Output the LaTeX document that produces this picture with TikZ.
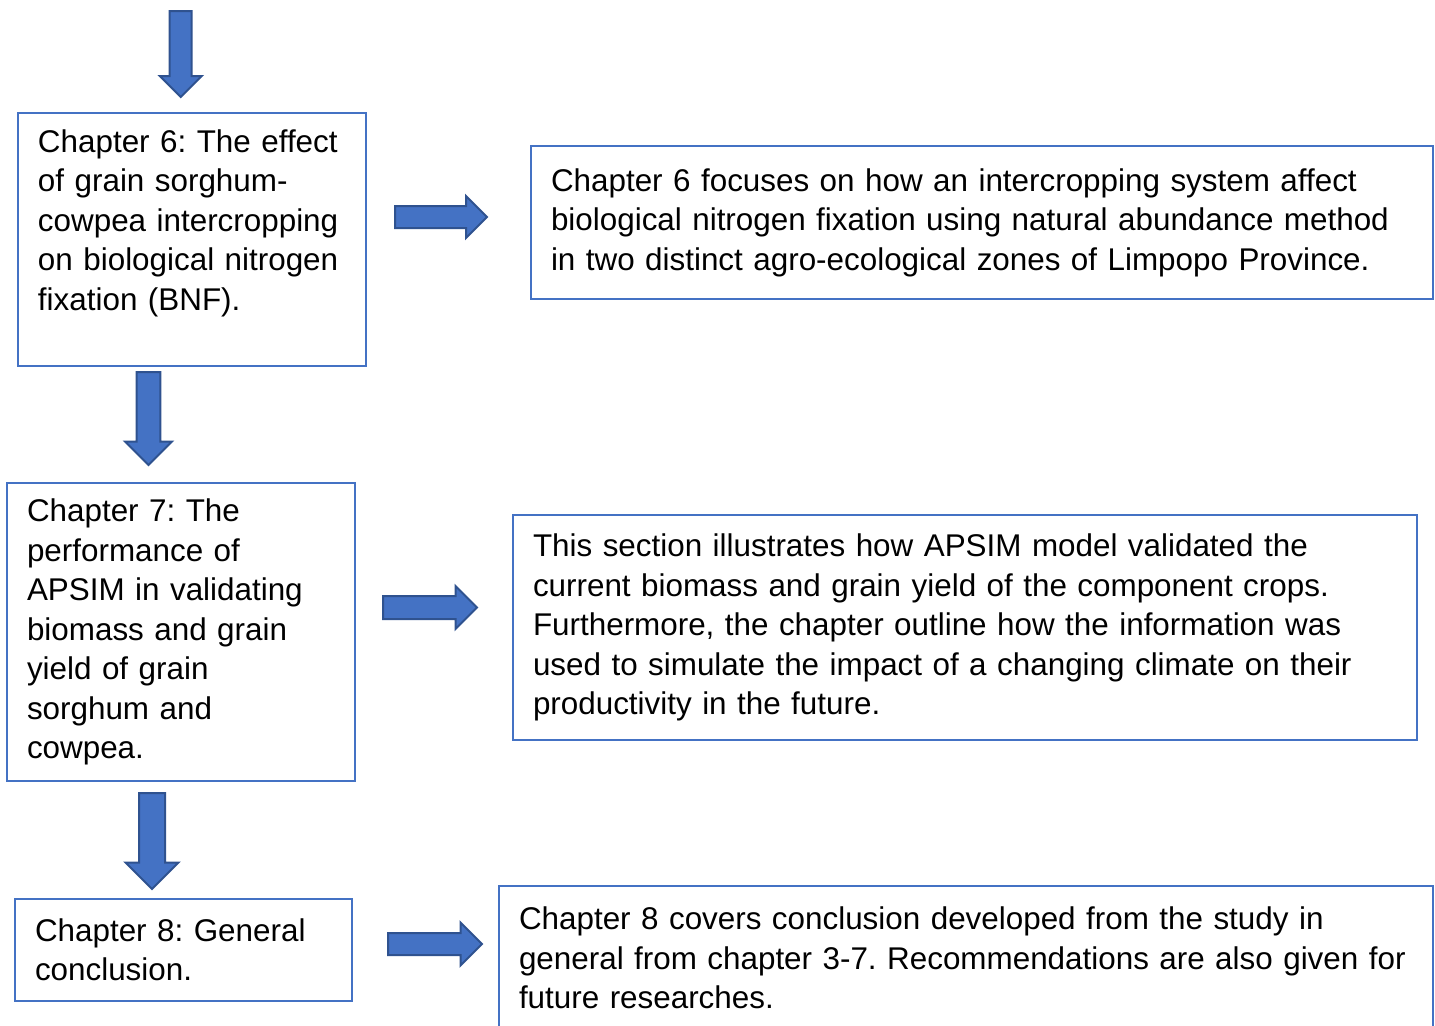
\documentclass[tikz,border=0pt]{standalone}
\usepackage{fontspec}
\setmainfont{Liberation Sans}
\usetikzlibrary{shapes.arrows}
\frenchspacing
\definecolor{boxblue}{RGB}{68, 114, 196}
\definecolor{edgeblue}{RGB}{47, 82, 143}
\tikzset{
  chapbox/.style={draw=boxblue, line width=1.2pt, align=left, inner xsep=10pt, outer sep=0pt,
    font=\fontsize{15.7pt}{19.75pt}\selectfont, anchor=north west},
  blockarrow/.style={single arrow, fill=boxblue, draw=edgeblue, line width=1pt,
    inner xsep=0pt, outer sep=0pt, anchor=tail}
}
\begin{document}
\begin{tikzpicture}[x=0.5pt, y=-0.5pt]

         \useasboundingbox (0, 0) rectangle (1435, 1025);

         \node[chapbox, text width=154pt, minimum height=126.5pt] (ch6) at (18, 113)
         {Chapter 6: The effect\\ of grain sorghum-\\ cowpea intercropping\\ on biological nitrogen\\ fixation (BNF).\\ \mbox{}};
         \node[chapbox, text width=431pt, minimum height=76.5pt] (ch6note) at (531, 146)
         {Chapter 6 focuses on how an intercropping system affect\\ biological nitrogen fixation using natural abundance method\\ in two distinct agro-ecological zones of Limpopo Province.};

         \node[chapbox, text width=154pt, minimum height=149pt] (ch7) at (7, 483)
         {Chapter 7: The\\ performance of\\ APSIM in validating\\ biomass and grain\\ yield of grain\\ sorghum and\\ cowpea.};
         \node[chapbox, text width=432pt, minimum height=112.5pt] (ch7note) at (513, 515)
         {This section illustrates how APSIM model validated the\\ current biomass and grain yield of the component crops.\\ Furthermore, the chapter outline how the information was\\ used to simulate the impact of a changing climate on their\\ productivity in the future.};

         \node[chapbox, text width=148.5pt, minimum height=51pt] (ch8) at (15, 899)
         {Chapter 8: General\\ conclusion.};
         \node[chapbox, text width=447pt, minimum height=72pt] (ch8note) at (499, 886)
         {Chapter 8 covers conclusion developed from the study in\\ general from chapter 3-7. Recommendations are also given for\\ future researches.};

         \node[blockarrow, rotate=-90, minimum height=43pt, inner ysep=5pt, single arrow head extend=5pt] (arrtop) at (180.7, 11) {};
         \node[blockarrow, rotate=-90, minimum height=46.5pt, inner ysep=5.4pt, single arrow head extend=5.8pt] (arr67) at (148.5, 372) {};
         \node[blockarrow, rotate=-90, minimum height=48pt, inner ysep=6pt, single arrow head extend=6.75pt] (arr78) at (152, 793) {};

         \node[blockarrow, minimum height=46pt, inner ysep=5pt, single arrow head extend=5pt] (arr6) at (395, 217) {};
         \node[blockarrow, minimum height=47pt, inner ysep=5.25pt, single arrow head extend=5pt] (arr7) at (383, 607.5) {};
         \node[blockarrow, minimum height=47pt, inner ysep=5pt, single arrow head extend=5.25pt] (arr8) at (388, 944) {};

     \end{tikzpicture}
\end{document}
